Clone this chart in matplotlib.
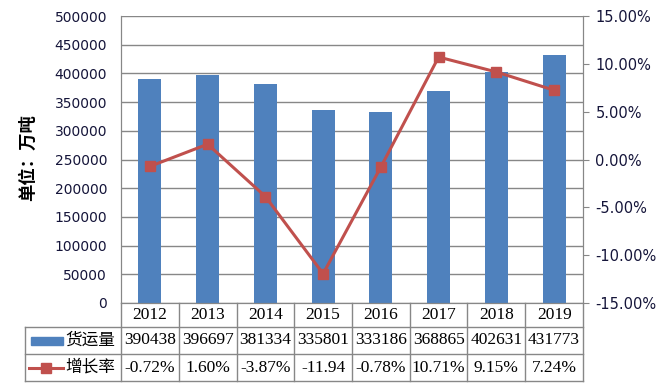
import matplotlib.pyplot as plt
from matplotlib.patches import Rectangle
from matplotlib.ticker import FuncFormatter

# data
years = ["2012", "2013", "2014", "2015", "2016", "2017", "2018", "2019"]
freight = [390438, 396697, 381334, 335801, 333186, 368865, 402631, 431773]
growth = [-0.72, 1.60, -3.87, -11.94, -0.78, 10.71, 9.15, 7.24]
growth_text = ["-0.72%", "1.60%", "-3.87%", "-11.94", "-0.78%", "10.71%", "9.15%", "7.24%"]
series_names = ["货运量", "增长率"]
y_label = "单位：万吨"

BLUE = "#4F81BD"
RED = "#C0504D"
GRID = "#878787"
TXT = "#15153a"
CJK = ["Noto Sans CJK SC", "DejaVu Sans"]
SERIF = "Liberation Serif"

W, H = 665, 390
fig = plt.figure(figsize=(W / 100, H / 100), dpi=100)


def box(left, top, right, bottom):
    """Pixel box -> figure fraction rect."""
    return [left / W, 1 - bottom / H, (right - left) / W, (bottom - top) / H]


# main plot area
ax = fig.add_axes(box(121, 16, 583, 303))
x = list(range(len(years)))
ax.bar(x, freight, width=0.4, color=BLUE, zorder=2)
ax.set_xlim(-0.5, 7.5)
ax.set_ylim(0, 500000)
ax.set_yticks(range(0, 500001, 50000))
ax.yaxis.grid(True, color=GRID, lw=1)
ax.set_axisbelow(True)
ax.set_xticks([])
ax.tick_params(axis="y", length=0, pad=10, labelsize=10, labelcolor=TXT)
for s in ax.spines.values():
    s.set_color(GRID)
ax.spines["top"].set_visible(False)

ax2 = ax.twinx()
ax2.plot(x, growth, color=RED, lw=2.2, marker="s", ms=7.5, mfc=RED, mec=RED, zorder=3)
ax2.set_ylim(-15, 15)
ax2.set_yticks(range(-15, 16, 5))
ax2.yaxis.set_major_formatter(FuncFormatter(lambda v, p: f"{v:.2f}%"))
ax2.tick_params(axis="y", length=4, color=GRID, pad=5, labelsize=10.5, labelcolor=TXT)
for s in ax2.spines.values():
    s.set_color(GRID)
ax2.spines["top"].set_visible(False)

fig.text(28 / W, 1 - 158 / H, y_label, rotation=90, ha="center", va="center",
         fontsize=12.5, fontweight="bold", family=CJK)

# data table below the plot
unit = 462 / 8
label_w = 96 / unit
tab = fig.add_axes(box(25, 303, 583, 381))
tab.set_xlim(-0.5 - label_w, 7.5)
tab.set_ylim(78, 0)
tab.axis("off")
x0 = -0.5 - label_w
rows = [0, 24, 51, 78]
kw = dict(color=GRID, lw=1, clip_on=False)
for y in rows[1:]:
    tab.plot([x0, 7.5], [y, y], **kw)
tab.plot([x0, x0], [rows[1], rows[3]], **kw)
for i in range(len(years) + 1):
    tab.plot([i - 0.5, i - 0.5], [rows[0], rows[3]], **kw)

mid = [(rows[k] + rows[k + 1]) / 2 for k in range(3)]
for i in x:
    tab.text(i, mid[0], years[i], ha="center", va="center", family=SERIF, fontsize=12.5)
    tab.text(i, mid[1], str(freight[i]), ha="center", va="center", family=SERIF, fontsize=12.5)
    tab.text(i, mid[2], growth_text[i], ha="center", va="center", family=SERIF, fontsize=12.5)


def px(p):
    return x0 + p / unit


tab.add_patch(Rectangle((px(6), mid[1] - 4), 32 / unit, 8, color=BLUE, clip_on=False))
tab.plot([px(4), px(38)], [mid[2], mid[2]], color=RED, lw=2.2, clip_on=False)
tab.plot([px(21)], [mid[2]], marker="s", ms=7.5, color=RED, clip_on=False)
for k, name in enumerate(series_names):
    tab.text(px(40), mid[k + 1], name, ha="left", va="center", family=CJK, fontsize=12)

fig.savefig("out.png", dpi=100)
